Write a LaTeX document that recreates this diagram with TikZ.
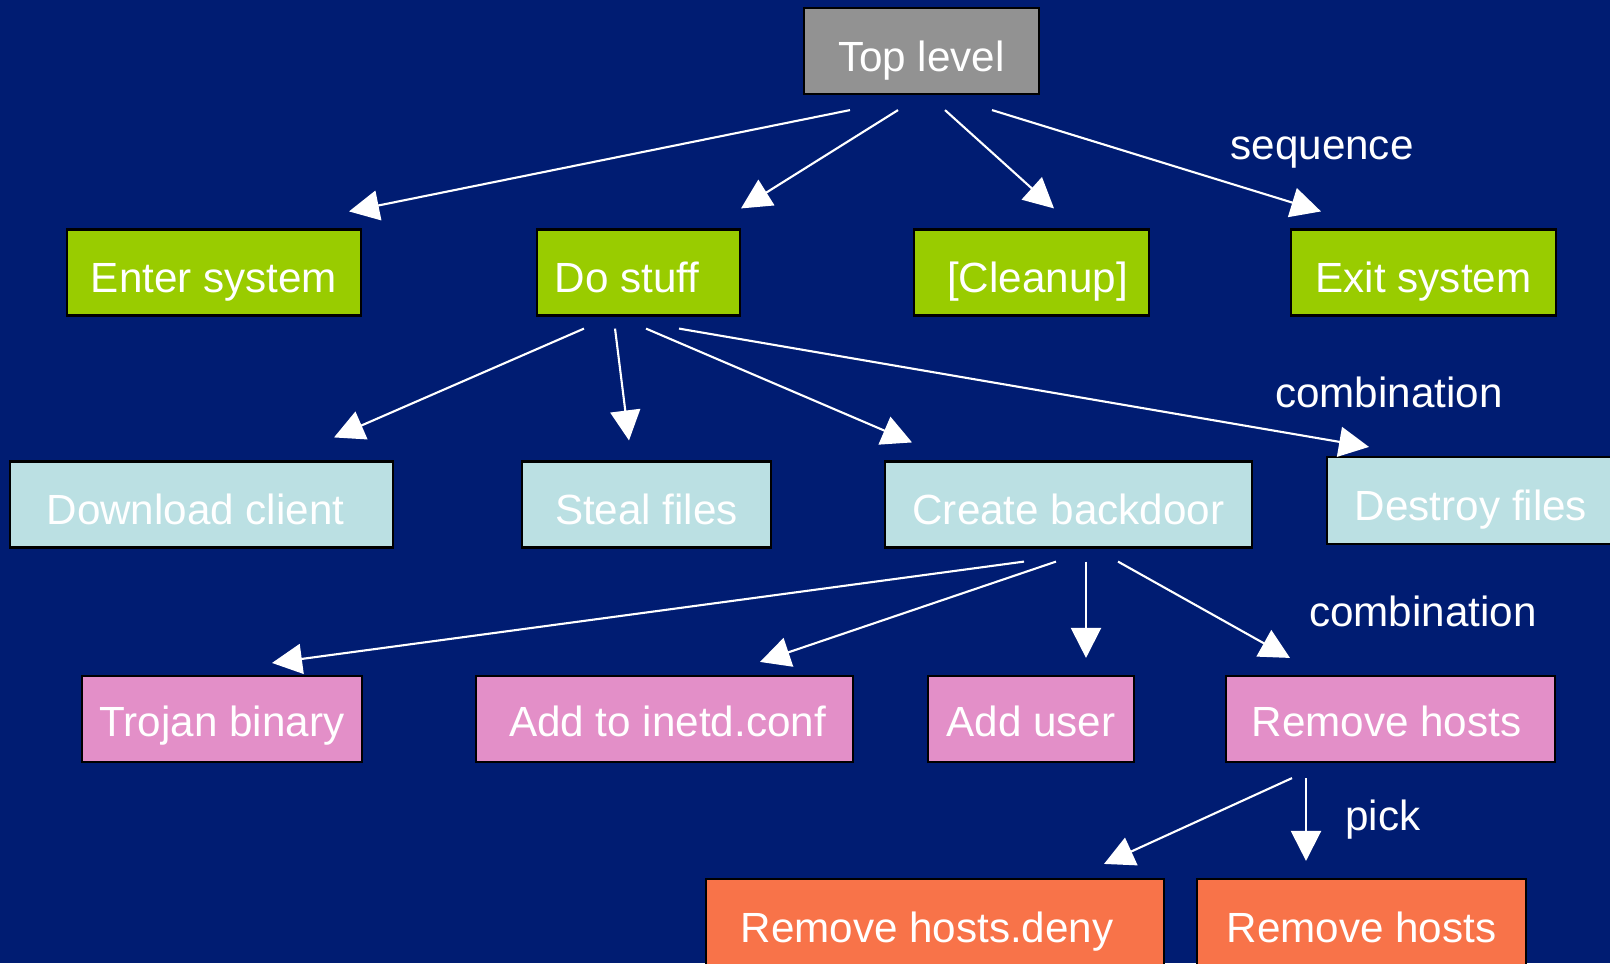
\documentclass[tikz,border=0pt]{standalone}
\usepackage{fontspec}
\setmainfont{Liberation Sans}
\usepackage{xcolor}
\usetikzlibrary{arrows.meta, positioning}

\definecolor{bgblue}{HTML}{001C72}
\definecolor{topgray}{HTML}{929292}
\definecolor{lvlgreen}{HTML}{99CC00}
\definecolor{lvlcyan}{HTML}{BBE0E3}
\definecolor{lvlpink}{HTML}{E38FC8}
\definecolor{lvlorange}{HTML}{F87349}

\begin{document}
\begin{tikzpicture}[
    x=0.01cm, y=-0.01cm,
    every node/.style={font=\fontsize{12}{14}\selectfont, text=white},
    box/.style={draw=black, line width=0.6pt, minimum height=0.86cm,
        inner sep=0pt, text height=11.4pt, text depth=0pt},
    pinkbox/.style={box, fill=lvlpink, text height=9.7pt},
    link/.style={draw=white, line width=0.6pt,
        -{Triangle[length=0.3cm, width=0.3cm]}},
    tag/.style={anchor=base}]
    \useasboundingbox (0,0) rectangle (1610,963);
    \fill[bgblue] (0,0) rectangle (1610,963);

    % top
    \node[box, fill=topgray, minimum width=2.35cm] (top) at (921.5,51) {Top level};

    % level 1
    \node[box, fill=lvlgreen, minimum width=2.94cm] (enter)   at (214,272.5)    {Enter system};
    \node[box, fill=lvlgreen, minimum width=2.03cm] (dostuff) at (638.5,272.5)  {Do stuff\hspace*{0.23cm}};
    \node[box, fill=lvlgreen, minimum width=2.35cm] (cleanup) at (1031.5,272.5) {\hspace*{0.12cm}[Cleanup]};
    \node[box, fill=lvlgreen, minimum width=2.65cm] (exit)    at (1423.5,272.5) {Exit system};

    % level 2
    \node[box, fill=lvlcyan, minimum width=3.83cm] (download) at (201.5,504.5)  {Download client\hspace*{0.12cm}};
    \node[box, fill=lvlcyan, minimum width=2.49cm] (steal)    at (646.5,504.5)  {Steal files};
    \node[box, fill=lvlcyan, minimum width=3.67cm] (backdoor) at (1068.5,504.5) {Create backdoor};
    \node[box, fill=lvlcyan, minimum width=2.88cm, minimum height=0.87cm] (destroy) at (1471,500.5) {Destroy files};

    % level 3
    \node[pinkbox, minimum width=2.80cm] (trojan)  at (222,719)    {Trojan binary};
    \node[pinkbox, minimum width=3.77cm] (inetd)   at (664.5,719)  {\hspace*{0.06cm}Add to inetd.conf};
    \node[pinkbox, minimum width=2.06cm] (adduser) at (1031,719)   {Add user};
    \node[pinkbox, minimum width=3.29cm] (rmhosts) at (1390.5,719) {Remove hosts\hspace*{0.08cm}};

    % level 4
    \node[box, fill=lvlorange, minimum width=4.58cm] (rmdeny)   at (935,922)    {Remove hosts.deny\hspace*{0.16cm}};
    \node[box, fill=lvlorange, minimum width=3.29cm] (rmhostsb) at (1361.5,922) {Remove hosts};

    % labels
    \node[tag] (seq)   at (1322,159) {sequence};
    \node[tag] (combA) at (1389,407) {combination};
    \node[tag] (combB) at (1423,626) {combination};
    \node[tag] (pick)  at (1383,830) {pick};

    % connectors
    \draw[link] ([shift={(-71.5,15)}]top.south) -- ([shift={(135,-17)}]enter.north);
    \draw[link] ([shift={(-23.5,15)}]top.south) -- ([shift={(102.5,-20)}]dostuff.north);
    \draw[link] ([shift={(23.5,15)}]top.south)  -- ([shift={(22.5,-20)}]cleanup.north);
    \draw[link] ([shift={(70.5,15)}]top.south)  -- ([shift={(-102.5,-17)}]exit.north);

    \draw[link] ([shift={(-54.5,12)}]dostuff.south) -- ([shift={(132.5,-23)}]download.north);
    \draw[link] ([shift={(-23.5,12)}]dostuff.south) -- ([shift={(-17.5,-20)}]steal.north);
    \draw[link] ([shift={(7.5,12)}]dostuff.south)   -- ([shift={(-156.5,-18)}]backdoor.north);
    \draw[link] ([shift={(40.5,12)}]dostuff.south)  -- ([shift={(-102,-9)}]destroy.north);

    \draw[link] ([shift={(-44.5,13)}]backdoor.south) -- ([shift={(50,-12)}]trojan.north);
    \draw[link] ([shift={(-12.5,13)}]backdoor.south) -- ([shift={(95.5,-13)}]inetd.north);
    \draw[link] ([shift={(17.5,13)}]backdoor.south)  -- ([shift={(55,-17)}]adduser.north);
    \draw[link] ([shift={(49.5,13)}]backdoor.south)  -- ([shift={(-100.5,-17)}]rmhosts.north);

    \draw[link] ([shift={(-98.5,15)}]rmhosts.south) -- ([shift={(169,-14)}]rmdeny.north);
    \draw[link] ([shift={(-84.5,15)}]rmhosts.south) -- ([shift={(-55.5,-17)}]rmhostsb.north);

\end{tikzpicture}
\end{document}
